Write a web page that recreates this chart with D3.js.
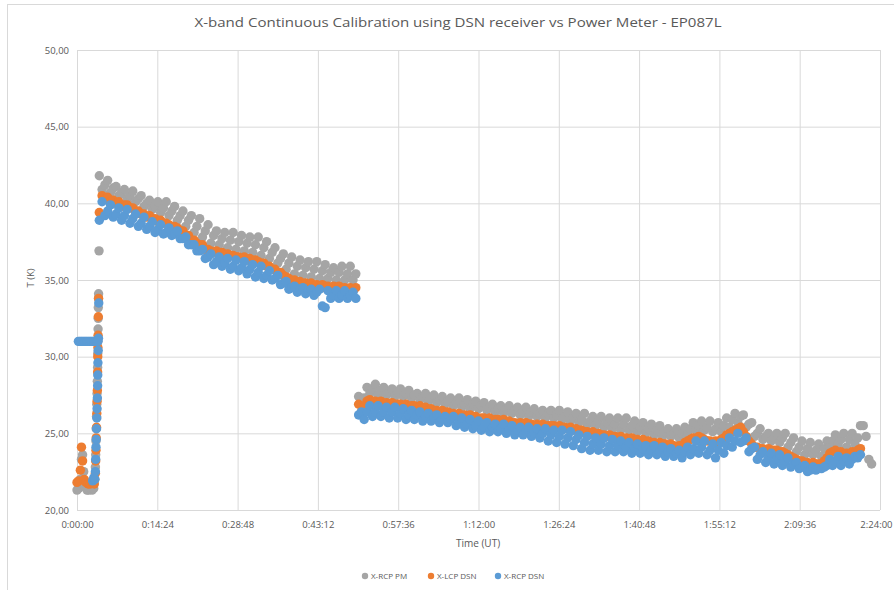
<!DOCTYPE html>
<html>
<head>
<meta charset="utf-8">
<script src="https://cdn.jsdelivr.net/npm/d3@7/dist/d3.min.js"></script>
<style>
  body { margin: 0; background: #fff; }
  text { font-family: "Open Sans", "Liberation Sans", sans-serif; fill: #595959; }
</style>
</head>
<body>
<div id="chart"></div>
<script>
// axis labels
var xTicks = [0, 14.4, 28.8, 43.2, 57.6, 72, 86.4, 100.8, 115.2, 129.6, 144]; // minutes
var xTickLabels = ["0:00:00","0:14:24","0:28:48","0:43:12","0:57:36","1:12:00","1:26:24","1:40:48","1:55:12","2:09:36","2:24:00"];
var yTicks = [20, 25, 30, 35, 40, 45, 50];
var yTickLabels = ["20,00","25,00","30,00","35,00","40,00","45,00","50,00"];

var seriesNames = ["X-RCP PM", "X-LCP DSN", "X-RCP DSN"];
var seriesColors = ["#a5a5a5", "#ed7d31", "#5b9bd5"];

// samples every half minute after warm-up
var step = 0.5;
var seg1Start = 4.0;
var seg2Start = 50.5;

// warm-up [minute, K]
var pmWarmup = [[0,21.3],[0.3,21.4],[0.6,22.0],[0.8,23.3],[1.0,23.6],[1.2,22.5],[1.5,21.5],[1.8,21.3],[2.1,21.3],
  [2.4,21.4],[2.7,21.3],[3.0,21.4],[3.2,22.0],[3.3,22.8],[3.35,23.6],[3.4,24.5],[3.45,25.3],[3.5,26.1],[3.55,26.9],
  [3.6,27.6],[3.65,28.4],[3.7,29.3],[3.72,30.2],[3.75,31.0],[3.78,31.8],[3.8,32.5],[3.82,33.2],[3.85,33.8],[3.87,34.1],[3.95,36.9]];
var lcpWarmup = [[0,21.8],[0.3,21.9],[0.6,22.6],[0.8,24.1],[1.0,23.2],[1.3,22.0],[1.6,21.8],[2.0,21.7],[2.4,21.7],
  [2.8,21.8],[3.1,21.7],[3.3,22.4],[3.35,23.2],[3.4,23.9],[3.45,24.7],[3.5,25.4],[3.55,26.3],[3.6,27.1],[3.65,27.8],
  [3.7,29.0],[3.72,30.0],[3.75,30.6],[3.78,31.4],[3.82,32.6],[3.87,33.8]];
var rcpWarmup = [[2.8,21.9],[3.0,22.1],[3.2,22.0],[3.3,22.5],[3.35,23.3],[3.4,24.1],[3.45,24.6],[3.5,25.3],[3.55,26.0],
  [3.6,26.6],[3.65,27.3],[3.7,28.1],[3.72,28.8],[3.75,29.6],[3.8,30.4],[3.85,31.2],[3.9,33.5],
  [0.25,31.0],[0.5,31.0],[0.75,31.0],[1.0,31.0],[1.25,31.0],[1.5,31.0],[1.75,31.0],[2.0,31.0],[2.25,31.0],
  [2.5,31.0],[2.75,31.0],[3.0,31.0],[3.25,31.0],[3.5,31.0],[3.75,31.0]];

var pmSeg1 = [41.8,40.9,41.2,41.5,40.7,41.0,41.1,40.5,40.7,40.9,
  40.3,40.5,40.8,40.1,40.3,40.5,39.8,40.0,40.2,39.6,
  39.8,40.1,39.4,39.7,40.1,39.2,39.5,39.8,38.9,39.2,
  39.5,38.5,38.9,39.2,38.1,38.5,39.0,37.8,38.2,38.6,
  37.4,37.9,38.2,37.3,37.7,38.1,37.1,37.6,38.1,37.0,
  37.5,37.9,36.9,37.4,37.8,36.8,37.3,37.8,36.6,37.1,
  37.5,36.4,36.8,37.1,36.1,36.4,36.7,35.7,36.1,36.5,
  35.4,35.9,36.3,35.3,35.8,36.2,35.2,35.7,36.2,35.1,
  35.6,36.0,35.1,35.5,35.8,35.0,35.5,35.9,35.0,35.4,
  35.9,35.0,35.4];
var lcpSeg1 = [39.4,40.5,40.3,40.4,40.1,40.2,40.0,40.1,39.8,39.9,
  39.9,39.7,39.7,39.5,39.5,39.3,39.3,39.1,39.2,39.0,
  39.0,38.8,38.9,38.7,38.7,38.6,38.5,38.5,38.4,38.2,
  38.2,37.9,37.9,37.6,37.6,37.4,37.3,37.3,37.0,37.0,
  36.9,36.8,36.9,36.7,36.8,36.6,36.7,36.6,36.6,36.5,
  36.5,36.4,36.5,36.3,36.4,36.2,36.3,36.2,36.1,36.1,
  35.9,35.9,35.7,35.7,35.5,35.5,35.3,35.2,35.1,34.9,
  35.0,34.8,34.9,34.7,34.8,34.6,34.8,34.6,34.7,34.5,
  34.7,34.5,34.6,34.5,34.6,34.4,34.6,34.4,34.5,34.4,
  34.5,34.3,34.5];
var rcpSeg1 = [38.9,40.1,39.2,39.5,39.9,39.1,39.3,39.7,38.9,39.2,
  39.6,38.7,39.0,39.3,38.5,38.7,39.1,38.3,38.5,38.8,
  38.1,38.3,38.6,38.0,38.1,38.4,37.9,38.0,38.2,37.7,
  37.7,37.8,37.3,37.3,37.3,36.9,36.9,37.0,36.4,36.5,
  36.7,36.0,36.2,36.5,35.9,36.1,36.4,35.7,35.9,36.3,
  35.6,35.8,36.2,35.4,35.7,36.0,35.2,35.5,35.9,35.1,
  35.3,35.6,35.0,35.1,35.3,34.7,34.8,34.9,34.4,34.5,
  34.6,34.2,34.4,34.5,34.1,34.3,34.4,34.0,34.2,34.4,
  33.3,33.2,34.3,33.8,34.0,34.3,33.8,34.0,34.3,33.8,
  34.0,34.2,33.8];

var pmSeg2 = [27.4,27.2,27.3,28.0,27.6,27.9,28.2,27.5,27.8,28.0,
  27.5,27.7,27.9,27.4,27.7,27.9,27.4,27.6,27.8,27.3,
  27.5,27.6,27.2,27.4,27.6,27.1,27.3,27.5,27.0,27.2,
  27.4,26.9,27.1,27.3,26.8,27.0,27.3,26.7,26.9,27.2,
  26.6,26.9,27.1,26.6,26.8,27.0,26.5,26.7,26.9,26.4,
  26.6,26.8,26.3,26.6,26.8,26.3,26.5,26.7,26.2,26.4,
  26.7,26.1,26.4,26.6,26.1,26.3,26.5,26.0,26.3,26.5,
  26.0,26.2,26.5,25.9,26.1,26.4,25.8,26.0,26.3,25.7,
  25.9,26.3,25.6,25.8,26.1,25.5,25.8,26.1,25.4,25.7,
  26.0,25.3,25.6,26.0,25.2,25.6,26.0,25.2,25.5,25.8,
  25.1,25.4,25.7,25.0,25.3,25.6,24.9,25.2,25.5,24.8,
  25.1,25.3,24.8,25.0,25.3,24.7,25.0,25.4,24.9,25.3,
  25.7,25.2,25.5,25.8,25.2,25.4,25.8,25.1,25.3,25.7,
  25.1,25.5,26.0,25.4,25.9,26.3,25.7,26.1,26.2,25.4,
  25.6,25.7,24.8,25.0,25.3,24.6,24.8,25.0,24.5,24.7,
  25.0,24.4,24.7,25.0,24.1,24.4,24.7,23.8,24.1,24.5,
  23.6,24.0,24.4,23.6,23.9,24.3,23.5,24.0,24.5,24.1,
  24.5,24.9,24.3,24.6,25.0,24.1,24.6,25.0,24.3,24.7,
  25.5,25.5,24.8,23.3,23.0];
var lcpSeg2 = [26.9,26.4,26.7,27.1,27.2,27.0,27.1,27.0,27.1,26.9,
  27.0,26.9,27.0,26.8,26.9,26.9,26.8,26.9,26.7,26.8,
  26.8,26.7,26.8,26.6,26.7,26.5,26.6,26.5,26.5,26.4,
  26.5,26.3,26.4,26.3,26.3,26.2,26.3,26.1,26.2,26.1,
  26.2,26.0,26.1,25.9,26.0,26.0,25.9,26.0,25.8,25.9,
  25.9,25.8,25.9,25.7,25.8,25.7,25.7,25.6,25.7,25.6,
  25.7,25.6,25.6,25.5,25.6,25.5,25.6,25.4,25.5,25.5,
  25.5,25.4,25.5,25.3,25.4,25.3,25.4,25.2,25.3,25.2,
  25.2,25.1,25.1,25.0,25.1,24.9,25.0,24.9,24.9,24.8,
  24.9,24.8,24.8,24.7,24.8,24.6,24.7,24.6,24.7,24.5,
  24.6,24.5,24.6,24.4,24.5,24.3,24.4,24.3,24.4,24.3,
  24.3,24.2,24.3,24.2,24.1,24.2,24.2,24.4,24.5,24.6,
  24.7,24.6,24.8,24.7,24.6,24.5,24.5,24.4,24.5,24.4,
  24.6,24.7,24.9,25.0,25.1,25.2,25.3,25.4,25.1,24.8,
  24.5,24.3,24.1,24.1,24.0,24.0,23.9,24.0,23.9,23.9,
  23.9,23.8,23.8,23.7,23.6,23.5,23.4,23.3,23.2,23.2,
  23.1,23.1,23.0,23.1,23.0,23.0,23.0,23.2,23.4,23.7,
  23.8,23.9,23.7,23.8,23.6,23.7,23.6,23.8,23.7,23.9,
  24.0];
var rcpSeg2 = [26.2,26.4,25.9,26.4,26.8,26.1,26.4,26.8,26.1,26.4,
  26.7,26.0,26.4,26.7,26.0,26.3,26.6,25.9,26.2,26.5,
  25.9,26.2,26.4,25.8,26.1,26.3,25.8,26.0,26.2,25.7,
  25.9,26.1,25.7,25.9,26.1,25.5,25.7,26.0,25.4,25.6,
  25.9,25.3,25.5,25.8,25.2,25.4,25.7,25.1,25.4,25.6,
  25.1,25.3,25.6,25.0,25.2,25.5,24.9,25.2,25.4,24.9,
  25.1,25.4,24.8,25.0,25.3,24.7,25.0,25.3,24.5,24.9,
  25.2,24.4,24.8,25.2,24.3,24.7,25.1,24.2,24.6,24.9,
  24.0,24.4,24.8,23.9,24.3,24.7,23.9,24.3,24.7,23.8,
  24.2,24.6,23.8,24.2,24.5,23.8,24.1,24.4,23.7,24.0,
  24.3,23.7,24.0,24.2,23.6,23.9,24.2,23.6,23.8,24.1,
  23.5,23.8,24.0,23.5,23.7,23.9,23.4,23.8,24.1,23.6,
  24.0,24.5,23.7,24.1,24.5,23.6,23.9,24.3,23.4,23.9,
  24.4,23.7,24.2,24.7,24.1,24.5,25.0,24.4,24.5,24.7,
  23.8,24.0,24.1,23.3,23.6,23.8,23.1,23.4,23.7,23.0,
  23.3,23.6,22.9,23.2,23.4,22.8,23.0,23.1,22.7,22.8,
  22.9,22.5,22.6,22.8,22.6,22.7,22.7,22.8,22.9,23.3,
  22.9,23.2,23.5,22.9,23.2,23.4,23.0,23.3,23.5,23.4,
  23.6];

function buildSeries(warm, seg1, seg2) {
  var pts = warm.map(function(d){ return {t: d[0], v: d[1]}; });
  seg1.forEach(function(v, i){ pts.push({t: seg1Start + i*step, v: v}); });
  seg2.forEach(function(v, i){ pts.push({t: seg2Start + i*step, v: v}); });
  return pts;
}

var series = [
  buildSeries(pmWarmup, pmSeg1, pmSeg2),
  buildSeries(lcpWarmup, lcpSeg1, lcpSeg2),
  buildSeries(rcpWarmup, rcpSeg1, rcpSeg2)
];

var width = 894, height = 590;
var plotLeft = 77, plotRight = 880, plotTop = 50, plotBottom = 510;

var svg = d3.select('#chart')
  .append('svg')
  .attr('width', width)
  .attr('height', height);

// chart area border
svg.append('rect')
  .attr('x', 7.5).attr('y', 4.5)
  .attr('width', 920).attr('height', 620)
  .attr('fill', 'none')
  .attr('stroke', '#d9d9d9');

var x = d3.scaleLinear().domain([0, 144]).range([plotLeft, plotRight]);
var y = d3.scaleLinear().domain([20, 50]).range([plotBottom, plotTop]);

// grid
svg.append('g')
  .attr('transform', 'translate(0,' + plotBottom + ')')
  .call(d3.axisBottom(x).tickValues(xTicks).tickSize(-(plotBottom - plotTop)).tickFormat(''))
  .call(function(g){ g.select('.domain').remove(); g.selectAll('line').attr('stroke', '#d9d9d9'); });
svg.append('g')
  .attr('transform', 'translate(' + plotLeft + ',0)')
  .call(d3.axisLeft(y).tickValues(yTicks).tickSize(-(plotRight - plotLeft)).tickFormat(''))
  .call(function(g){ g.select('.domain').remove(); g.selectAll('line').attr('stroke', '#d9d9d9'); });

// tick labels
svg.append('g')
  .attr('transform', 'translate(0,' + plotBottom + ')')
  .call(d3.axisBottom(x).tickValues(xTicks).tickSize(0).tickPadding(11)
    .tickFormat(function(d, i){ return xTickLabels[i]; }))
  .call(function(g){
    g.select('.domain').remove();
    g.selectAll('text').attr('font-size', '9.5px').attr('fill', '#595959')
      .style('font-family', '"Open Sans", sans-serif');
    // last label pulled in so it stays inside the picture
    g.selectAll('.tick').filter(function(d, i){ return i === xTicks.length - 1; })
      .select('text').attr('text-anchor', 'end').attr('dx', '12px');
  });
svg.append('g')
  .attr('transform', 'translate(' + plotLeft + ',0)')
  .call(d3.axisLeft(y).tickValues(yTicks).tickSize(0).tickPadding(8)
    .tickFormat(function(d, i){ return yTickLabels[i]; }))
  .call(function(g){
    g.select('.domain').remove();
    g.selectAll('text').attr('font-size', '9.5px').attr('fill', '#595959')
      .style('font-family', '"Open Sans", sans-serif');
  });

// points: PM first, RCP DSN on top
var plot = svg.append('g');
series.forEach(function(pts, k){
  plot.append('g').selectAll('circle')
    .data(pts)
    .enter()
    .append('circle')
    .attr('cx', function(d){ return x(d.t); })
    .attr('cy', function(d){ return y(d.v); })
    .attr('r', 4.7)
    .attr('fill', seriesColors[k]);
});

// titles
svg.append('text')
  .attr('x', 458).attr('y', 27)
  .attr('text-anchor', 'middle')
  .attr('font-size', '13.5px')
  .attr('textLength', 527)
  .attr('lengthAdjust', 'spacingAndGlyphs')
  .text('X-band Continuous Calibration using DSN receiver vs Power Meter - EP087L');

svg.append('text')
  .attr('x', 478).attr('y', 547)
  .attr('text-anchor', 'middle')
  .attr('font-size', '10px')
  .text('Time (UT)');

svg.append('text')
  .attr('transform', 'translate(34,278) rotate(-90)')
  .attr('text-anchor', 'middle')
  .attr('font-size', '9.5px')
  .text('T (K)');

// legend
var legendX = [365, 431, 498];
var legend = svg.append('g');
seriesNames.forEach(function(name, k){
  legend.append('circle')
    .attr('cx', legendX[k]).attr('cy', 576).attr('r', 3.2)
    .attr('fill', seriesColors[k]);
  legend.append('text')
    .attr('x', legendX[k] + 6).attr('y', 579)
    .attr('font-size', '8px')
    .text(name);
});
</script>
</body>
</html>
